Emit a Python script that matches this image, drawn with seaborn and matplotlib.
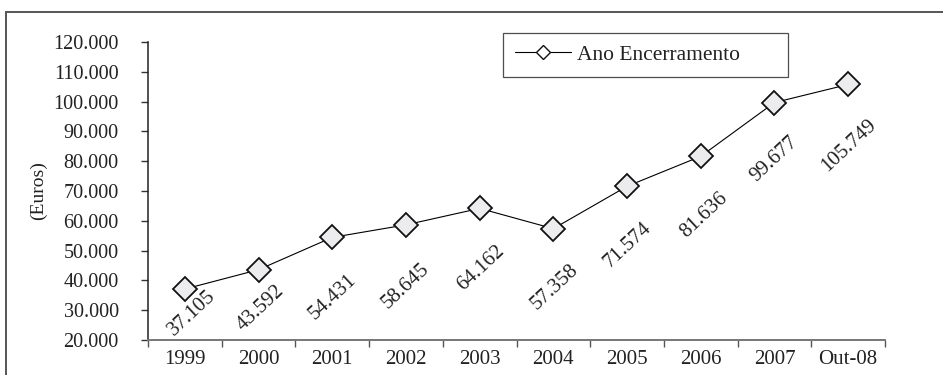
import matplotlib
matplotlib.use("Agg")
import matplotlib.pyplot as plt
from matplotlib.patches import Rectangle
from matplotlib.ticker import FuncFormatter, FixedLocator
import seaborn as sns
import pandas as pd

# Data
periods = ["1999", "2000", "2001", "2002", "2003", "2004", "2005", "2006", "2007", "Out-08"]
values = [37105, 43592, 54431, 58645, 64162, 57358, 71574, 81636, 99677, 105749]
series_name = "Ano Encerramento"

# Label placement (pixel offsets from each point: right, down)
label_offsets = [(7, 24), (2, 38), (0, 60), (0, 61), (1, 60),
                 (1, 58), (1, 59), (3, 59), (0, 57), (1, 61)]


def fmt_pt(v):
    return f"{int(round(v)):,}".replace(",", ".")


sns.set_theme(style="white")
plt.rcParams["font.family"] = ["Liberation Serif", "DejaVu Serif"]
plt.rcParams["text.color"] = "#222222"

df = pd.DataFrame({"periodo": periods, "valor": values})

fig = plt.figure(figsize=(9.43, 3.75), dpi=100)
ax = fig.add_axes([148 / 943, 1 - 340 / 375, (885 - 148) / 943, (340 - 42) / 375])

sns.lineplot(data=df, x="periodo", y="valor", ax=ax, sort=False,
             color="black", linewidth=0.8, marker="D", markersize=12.5,
             markerfacecolor="#ececee", markeredgecolor="#111111",
             markeredgewidth=1.3, label=series_name)

ax.set_xlim(-0.5, len(periods) - 0.5)
ax.set_ylim(20000, 120000)
ax.set_yticks(range(20000, 120001, 10000))
ax.yaxis.set_major_formatter(FuncFormatter(lambda v, p: fmt_pt(v)))

ax.set_xticks(range(len(periods)))
ax.set_xticklabels(periods)
ax.xaxis.set_minor_locator(FixedLocator([i - 0.5 for i in range(len(periods) + 1)]))
ax.tick_params(axis="x", which="major", length=0, pad=7, labelsize=15, colors="#222222")
ax.tick_params(axis="x", which="minor", length=5, width=1, color="#555555", bottom=True)
ax.tick_params(axis="y", which="major", length=5, width=1, color="#333333",
               left=True, labelsize=14.5, pad=16, labelcolor="#222222")

ax.set_xlabel("")
ax.set_ylabel("(Euros)", fontsize=14, color="#222222")
ax.yaxis.set_label_coords(-0.137, 0.5)

for s in ["top", "right"]:
    ax.spines[s].set_visible(False)
ax.spines["left"].set_color("#222222")
ax.spines["left"].set_linewidth(1.1)
ax.spines["bottom"].set_color("#777777")
ax.spines["bottom"].set_linewidth(1.4)

# Value labels under each point
for i, (v, (dx, dy)) in enumerate(zip(values, label_offsets)):
    ax.annotate(fmt_pt(v), xy=(i, v), xytext=(dx, -dy), textcoords="offset pixels",
                ha="center", va="center", rotation=43, fontsize=15,
                color="#222222", rotation_mode="anchor", annotation_clip=False)

# Legend box spanning a fixed width above the plot
lx0 = (503 - 148) / 737
lx1 = (788 - 148) / 737
ly1 = (340 - 33) / 298
leg = ax.legend(loc="upper left", bbox_to_anchor=(lx0, ly1 - 0.14, lx1 - lx0, 0.14),
                mode="expand", borderaxespad=0, frameon=True, fancybox=False,
                fontsize=15.5, handlelength=2.6, handletextpad=0.3, borderpad=0.55)
leg.get_frame().set_edgecolor("#222222")
leg.get_frame().set_linewidth(0.9)
for h in leg.legend_handles:
    h.set_markersize(7)
    h.set_markerfacecolor("white")
    h.set_markeredgewidth(1.0)

# Outer chart frame
fig.patches.append(Rectangle((6 / 943, -0.1), 1.2, 1 - 12 / 375 + 0.1,
                             transform=fig.transFigure, fill=False,
                             edgecolor="#555555", linewidth=1.4))

fig.savefig("out.png", dpi=100)
